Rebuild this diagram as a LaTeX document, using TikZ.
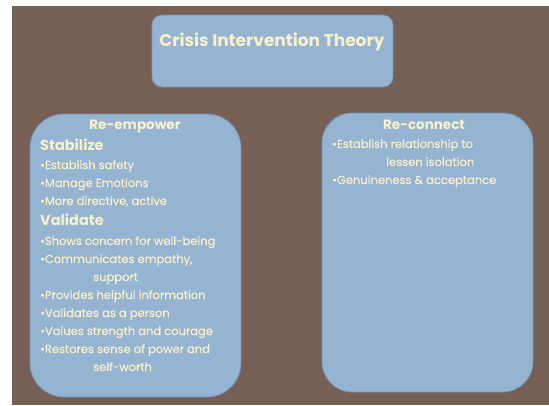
\documentclass[tikz,border=0pt]{standalone}
\usepackage{fontspec}
\setmainfont[UprightFeatures={FakeBold=0.5}]{Poppins}
\definecolor{bgbrown}{HTML}{765F55}
\definecolor{boxblue}{HTML}{94B4D2}
\definecolor{boxedge}{HTML}{7393B3}
\definecolor{cream}{HTML}{FBF0C8}
\tikzset{
  panel/.style={draw=boxedge, line width=0.8pt, fill=boxblue},
  txt/.style={text=cream, anchor=base west, inner sep=0pt, font=\fontsize{11.5}{12}\selectfont},
  head/.style={text=cream, anchor=base, inner sep=0pt, font=\fontsize{13.5}{14}\selectfont\bfseries},
  sub/.style={text=cream, anchor=base west, inner sep=0pt, font=\fontsize{14.5}{15}\selectfont\bfseries},
  ttl/.style={text=cream, anchor=base, inner sep=0pt, font=\fontsize{17}{18}\selectfont\bfseries}
}
\begin{document}
\begin{tikzpicture}[x=1pt,y=-1pt]
\useasboundingbox (0,0) rectangle (549,405);
\fill[white] (0,0) rectangle (549,405);
\fill[bgbrown] (12,6) rectangle (549,405);
% boxes
\draw[panel, rounded corners=10] (152,15) rectangle (393,87);
\draw[panel, rounded corners=34] (30,114) rectangle (241,397);
\draw[panel, rounded corners=30] (322,113) rectangle (533,392);
% title
\node[ttl] (title) at (272,46) {Crisis Intervention Theory};
% left box
\node[head] (reemp) at (135,129) {Re-empower};
\node[sub] (stab) at (40,150) {Stabilize};
\node[txt] (l1) at (40,169) {•Establish safety};
\node[txt] (l2) at (40,187) {•Manage Emotions};
\node[txt] (l3) at (40,205) {•More directive, active};
\node[sub] (val) at (40,225) {Validate};
\node[txt] (l4) at (40,245) {•Shows concern for well-being};
\node[txt] (l5) at (40,263) {•Communicates empathy,};
\node[txt] (l5b) at (93,281) {support};
\node[txt] (l6) at (40,299) {•Provides helpful information};
\node[txt] (l7) at (40,317) {•Validates as a person};
\node[txt] (l8) at (40,335) {•Values strength and courage};
\node[txt] (l9) at (40,353) {•Restores sense of power and};
\node[txt] (l9b) at (93,371) {self-worth};
% right box
\node[head] (recon) at (424,129) {Re-connect};
\node[txt] (r1) at (332,148) {•Establish relationship to};
\node[txt] (r1b) at (386,166) {lessen isolation};
\node[txt] (r2) at (332,184) {•Genuineness \& acceptance};
\end{tikzpicture}
\end{document}
